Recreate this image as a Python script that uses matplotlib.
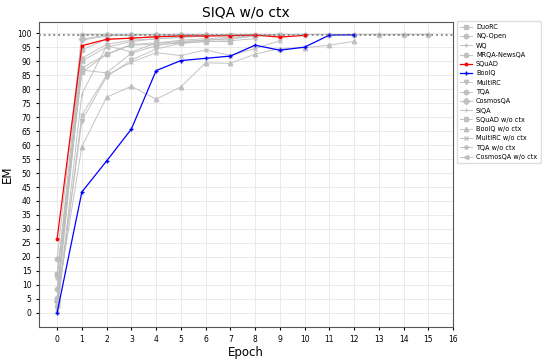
import numpy as np
import matplotlib
matplotlib.use("Agg")
import matplotlib.pyplot as plt

title = "SIQA w/o ctx"
target = 99.5

names = ["DuoRC", "NQ-Open", "WQ", "MRQA-NewsQA", "SQuAD", "BoolQ", "MultiRC",
         "TQA", "CosmosQA", "SIQA", "SQuAD w/o ctx", "BoolQ w/o ctx",
         "MultiRC w/o ctx", "TQA w/o ctx", "CosmosQA w/o ctx"]

markers = ["s", "o", "+", "o", ".", "+", "v", "o", "D", "|", "s", "^", "x", "*", "<"]

scores = {
    "DuoRC": [14.0, 87.5, 92.5, 96.0, 96.5, 97.0, 97.5, 98.0, 99.0, 99.3],
    "NQ-Open": [19.3, 99.5, 99.5, 99.5, 99.5, 99.5, 99.5, 99.5, 99.5, 99.5,
                99.5, 99.5, 99.5, 99.5, 99.5, 99.5],
    "WQ": [12.0, 97.5, 99.0, 99.3, 99.5, 99.5, 99.5],
    "MRQA-NewsQA": [8.6, 86.8, 85.8, 92.8, 95.5, 96.9, 97.5, 98.0, 99.0],
    "SQuAD": [26.4, 95.5, 97.8, 98.2, 98.7, 99.0, 99.0, 99.1, 99.3, 98.6, 99.2],
    "BoolQ": [0.0, 43.2, 54.3, 65.7, 86.6, 90.2, 91.0, 91.8, 95.7, 93.9, 95.0, 99.3, 99.4],
    "MultiRC": [1.8, 68.7, 84.4, 90.4, 94.3, 96.4, 97.0, 97.3, 98.0],
    "TQA": [5.3, 94.0, 97.9, 98.2, 98.9, 99.0, 99.3],
    "CosmosQA": [4.3, 97.9, 99.3, 99.5, 99.5, 99.3, 99.5],
    "SIQA": [0.5, 78.2, 95.5, 93.3, 96.4, 97.5, 98.0, 98.5, 99.0],
    "SQuAD w/o ctx": [13.5, 86.0, 92.4, 95.7, 96.0, 96.4, 97.0, 97.0],
    "BoolQ w/o ctx": [4.5, 59.4, 77.1, 81.0, 76.4, 80.8, 89.4, 89.2, 92.5, 94.5,
                      94.8, 95.7, 97.1],
    "MultiRC w/o ctx": [1.0, 70.7, 85.0, 89.6, 93.0, 92.0, 94.0, 92.0, 94.5, 97.3],
    "TQA w/o ctx": [5.0, 91.0, 96.0, 97.5, 98.0, 98.5, 99.0],
    "CosmosQA w/o ctx": [3.0, 90.0, 95.0, 97.0, 98.0, 98.5, 99.0, 99.3],
}

highlight = {"SQuAD": "red", "BoolQ": "blue"}

fig = plt.figure(figsize=(5.42, 3.6), dpi=100)
ax = fig.add_axes([0.072, 0.092, 0.764, 0.847])

for name, m in zip(names, markers):
    y = scores[name]
    x = np.arange(len(y))
    if name in highlight:
        ax.plot(x, y, marker=m, color=highlight[name], lw=0.9, ms=3.5,
                label=name, zorder=3)
    else:
        ax.plot(x, y, marker=m, color="#bdbdbd", lw=0.7, ms=3.2,
                alpha=0.9, label=name, zorder=2)

ax.axhline(target, color="#808080", ls=":", lw=1.3, zorder=4)

ax.set_xlim(-0.73, 16)
ax.set_ylim(-5, 104)
ax.set_xticks(range(0, 17))
ax.set_yticks(range(0, 101, 5))
ax.tick_params(labelsize=5.5, length=2)
ax.grid(True, color="#e6e6e6", lw=0.6)
ax.set_axisbelow(True)
ax.set_xlabel("Epoch", fontsize=8.5, labelpad=2)
ax.set_ylabel("EM", fontsize=8.5, labelpad=2)
ax.set_title(title, fontsize=10, pad=4)
for s in ax.spines.values():
    s.set_color("#555555")

ax.legend(loc="upper left", bbox_to_anchor=(1.005, 1.01), fontsize=4.7,
          frameon=True, framealpha=1, edgecolor="#dddddd",
          handlelength=1.8, handletextpad=0.6, labelspacing=0.5,
          borderpad=0.5, borderaxespad=0.3)

fig.savefig("out.png", dpi=100)
